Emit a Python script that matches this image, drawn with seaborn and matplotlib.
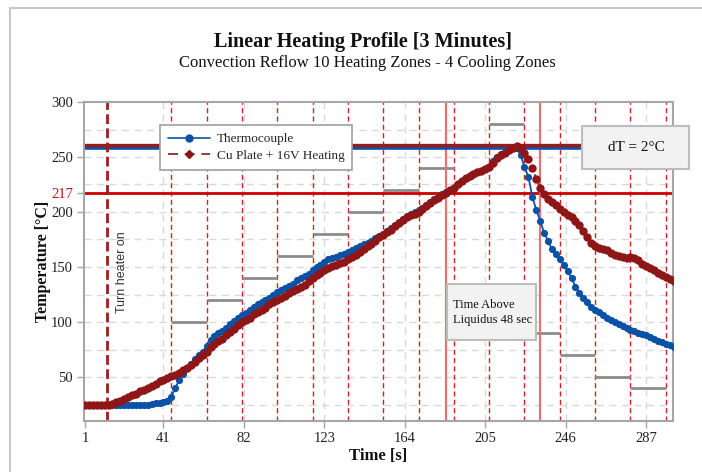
import matplotlib
matplotlib.use("Agg")
import matplotlib.pyplot as plt
import seaborn as sns
import pandas as pd
from matplotlib.lines import Line2D
from matplotlib.patches import Rectangle

# ---------------- data ----------------
time_s = list(range(1, 302, 2))
thermocouple = [25, 25, 25, 25, 25, 25, 25, 25, 25, 25,
                25, 25, 25, 25, 25, 25, 25, 25.5, 26, 26.5,
                27, 28.5, 32, 40, 47, 53, 58, 62, 66, 70,
                73, 78, 84, 87, 90, 92, 95, 98, 101, 104,
                106, 108, 111, 114, 116, 118, 120, 122, 125, 127,
                129, 131, 133, 135, 138, 140, 142, 144, 147, 150,
                152, 155, 157, 158, 159, 161, 162, 164, 165, 167,
                169, 171, 172, 174, 176, 178, 180, 183, 185, 188,
                191, 194, 196, 198, 200, 202, 204, 206, 209, 212,
                214, 216, 218, 220, 222, 225, 228, 231, 233, 235,
                236, 237, 239, 241, 246, 250, 253, 255, 256, 258,
                258, 252, 241, 232, 214, 202, 192, 181, 174, 166,
                162, 157, 152, 146, 140, 132, 126, 122, 118, 114,
                111, 109, 106, 104, 102, 100, 98, 96, 95, 93,
                92, 90, 89, 88, 86, 85, 83, 82, 80, 79,
                77]
cu_plate = [25, 25, 25, 25, 25, 25, 25, 25.5, 27, 28.5,
            30, 32, 33.5, 35, 37, 38.5, 40, 42, 44, 46,
            47.5, 49, 50.5, 52, 54, 56, 58, 61, 64, 67,
            70, 73, 77, 80, 83, 85, 88, 91, 94, 97,
            100, 102, 104, 107, 109, 111, 113, 116, 118, 120,
            122, 124, 126, 128, 130, 132, 134, 137, 140, 143,
            145, 147, 149, 151, 152, 154, 155, 157, 159, 161,
            164, 166, 169, 171, 174, 177, 179, 182, 184, 187,
            190, 193, 195, 197, 198, 200, 203, 205, 208, 211,
            213, 215, 217, 220, 222, 225, 228, 231, 233, 235,
            236, 237, 239, 241, 245, 249, 252, 254, 256, 258,
            260, 258, 254, 248, 240, 230, 222, 216, 212, 209,
            206, 203, 200, 197, 195, 192, 188, 183, 177, 172,
            169, 167, 166, 165, 163, 161, 160, 159, 158, 159,
            158, 156, 153, 151, 149, 147, 145, 143, 141, 139,
            137]

zone_edges = [45, 63, 81, 99, 117, 135, 153, 171, 189, 207, 225, 243, 261, 279, 297]
zone_temps = [100, 120, 140, 160, 180, 200, 220, 240, 260, 280, 90, 70, 50, 40]

x_ticks = [1, 41, 82, 123, 164, 205, 246, 287]
y_ticks = [50, 100, 150, 200, 217, 250, 300]
y_grid = [25, 50, 75, 100, 125, 150, 175, 200, 225, 250, 275]

liquidus = 217
peak_tc = 258
peak_cu = 260
heater_on = 12.2
tal_start, tal_end = 185, 233

df = pd.DataFrame({"Time": time_s, "Thermocouple": thermocouple, "Cu": cu_plate})

# ---------------- style ----------------
sns.set_style("white")
plt.rcParams["font.family"] = ["Liberation Serif", "DejaVu Serif"]

BLUE = "#0b52a6"
RED = "#8e1616"
W, H = 702, 472
fig = plt.figure(figsize=(W / 100, H / 100), dpi=100)
ax = fig.add_axes([84 / W, 1 - 421 / H, (673 - 84) / W, (421 - 102) / H])

ax.set_xlim(0.5, 300.7)
ax.set_ylim(10, 300)

# grid
for v in y_grid:
    ax.axhline(v, color="#d9d9d9", lw=1, dashes=(5, 4), zorder=0)
for v in x_ticks[1:]:
    ax.axvline(v, color="#d9d9d9", lw=1, dashes=(5, 4), zorder=0)

# zone boundaries
for e in zone_edges:
    ax.axvline(e, color="#d81e1e", lw=1, dashes=(3.6, 2.4), zorder=1)

# zone set points
ax.hlines(zone_temps, zone_edges[:-1], zone_edges[1:], color="#8c8c8c", lw=2, zorder=2)

# liquidus / TAL
ax.axhline(liquidus, color="#cc0000", lw=2, zorder=2)
ax.axvline(tal_start, color="#e57373", lw=1.6, zorder=2)
ax.axvline(tal_end, color="#e57373", lw=1.6, zorder=2)

# peak lines
ax.axhline(peak_tc, color=BLUE, lw=2.6, zorder=2)
ax.axhline(peak_cu + 0.8, color="#9b1b1b", lw=2.4, zorder=2)

# heater on
ax.axvline(heater_on, color="#a31a1a", lw=2, dashes=(3.5, 1.6), zorder=2)
ax.text(20, 145, "Turn heater on", rotation=90, ha="center", va="center",
        fontsize=9, family="Liberation Sans", color="#333333")

# data
sns.lineplot(data=df, x="Time", y="Thermocouple", ax=ax, color=BLUE, lw=1.3,
             marker="o", markersize=5.2, markeredgewidth=0, zorder=3)
sns.lineplot(data=df, x="Time", y="Cu", ax=ax, color=RED, lw=1.3, linestyle="--",
             marker="o", markersize=6, markeredgewidth=0, zorder=4)

# boxes
ax.add_patch(Rectangle((185.7, 83.6), 231 - 185.7, 134.5 - 83.6, facecolor="#f2f2f2",
                       edgecolor="#bdbdbd", lw=1.5, zorder=6))
ax.text(188.7, 109, "Time Above\nLiquidus 48 sec", ha="left", va="center",
        fontsize=9, color="#111111", linespacing=1.35, zorder=7)

ax.add_patch(Rectangle((254.4, 239), 308.9 - 254.4, 278.2 - 239, facecolor="#f2f2f2",
                       edgecolor="#bdbdbd", lw=1.5, zorder=6, clip_on=False))
ax.text(281.9, 259, "dT = 2°C", ha="center", va="center", fontsize=11,
        color="#111111", zorder=7, clip_on=False)

# legend
handles = [Line2D([], [], color=BLUE, lw=1.2, marker="o", markersize=5),
           Line2D([], [], color=RED, lw=1.2, linestyle=(0, (6, 4)), marker="D", markersize=4.5)]
leg = ax.legend(handles, ["Thermocouple", "Cu Plate + 16V Heating"], loc="upper left",
                bbox_to_anchor=(0.129, 0.928), borderaxespad=0, fontsize=9.5,
                fancybox=False, framealpha=1, edgecolor="#a0a0a0", handlelength=3.2,
                borderpad=0.6, labelspacing=0.35, handletextpad=0.5)
leg.set_zorder(8)
leg.get_frame().set_linewidth(1.2)

# ticks
ax.set_xticks(x_ticks)
ax.set_xticklabels([str(v) for v in x_ticks])
ax.set_yticks(y_ticks)
ax.set_yticklabels([str(v) for v in y_ticks])
ax.tick_params(axis="both", length=5, width=1, color="#a6a6a6", labelsize=10.5,
               labelcolor="#222222", pad=3, direction="out", left=True, bottom=True)
for lab in ax.get_yticklabels():
    if lab.get_text() == "217":
        lab.set_color("#b01c1c")

for s in ax.spines.values():
    s.set_color("#a6a6a6")
    s.set_linewidth(1.5)

ax.set_xlabel("Time [s]", fontsize=12, fontweight="bold", color="#111111")
ax.xaxis.set_label_coords((378 - 84) / 589, -0.085)
ax.set_ylabel("Temperature [°C]", fontsize=11.5, fontweight="bold", color="#111111")
ax.yaxis.set_label_coords((51 - 84) / 589, 0.5)

# titles
fig.text(363 / W, 1 - 42 / H, "Linear Heating Profile [3 Minutes]", ha="center",
         va="center", fontsize=14.5, fontweight="bold", color="#111111")
fig.text(367 / W, 1 - 63 / H, "Convection Reflow 10 Heating Zones - 4 Cooling Zones",
         ha="center", va="center", fontsize=12, color="#111111")

# outer frame lines
fig.add_artist(Line2D([10 / W, 10 / W], [0, 1 - 8 / H], transform=fig.transFigure,
                      color="#c8c8c8", lw=1.5))
fig.add_artist(Line2D([10 / W, 1], [1 - 8 / H, 1 - 8 / H], transform=fig.transFigure,
                      color="#c8c8c8", lw=1.5))

fig.savefig("out.png", dpi=100)
